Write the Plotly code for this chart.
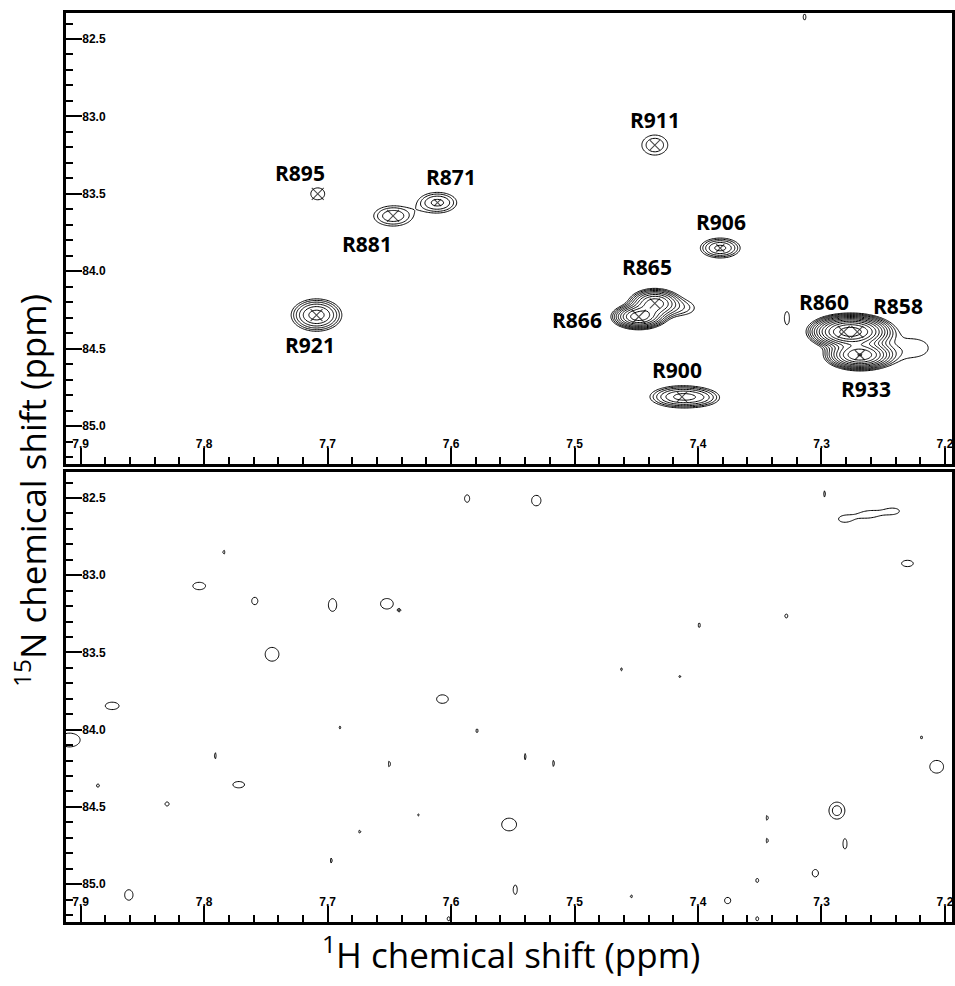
import numpy as np
import plotly.graph_objects as go

# ---------------- data (ppm) ----------------
# assigned peaks in the top spectrum
peak_labels = ["R895", "R881", "R871", "R921", "R911", "R906",
               "R865", "R866", "R900", "R860", "R858", "R933"]
peak_h = [7.708, 7.647, 7.611, 7.709, 7.435, 7.382,
          7.435, 7.448, 7.413, 7.282, 7.271, 7.269]
peak_n = [83.500, 83.643, 83.557, 84.283, 83.185, 83.850,
          84.207, 84.294, 84.811, 84.391, 84.391, 84.541]
peak_lnI = [0.22, 0.85, 1.0, 1.65, 0.55, 1.3,
            2.3, 2.6, 1.6, 2.9, 2.9, 3.0]
peak_wh = [0.0085, 0.012, 0.011, 0.0113, 0.0100, 0.0100,
           0.0100, 0.0099, 0.0145, 0.0125, 0.0125, 0.0120]
peak_wn = [0.058, 0.050, 0.047, 0.0577, 0.0616, 0.040,
           0.045, 0.037, 0.040, 0.046, 0.046, 0.042]

# unassigned signal (shoulders, tails, weak spots) in the top spectrum
extra_h = [7.4114, 7.395, 7.2256, 7.328, 7.3137]
extra_n = [84.238, 84.819, 84.496, 84.302, 82.358]
extra_lnI = [0.3, 0.0, 0.2, 0.15, 0.15]
extra_wh = [0.010, 0.010, 0.019, 0.0037, 0.0022]
extra_wn = [0.045, 0.035, 0.090, 0.077, 0.035]

# noise features in the bottom (control) spectrum
noise_h = [7.784, 7.804, 7.759, 7.696, 7.745, 7.8745, 7.909, 7.690, 7.791, 7.886,
           7.772, 7.830, 7.674, 7.697, 7.861, 7.587, 7.531, 7.652, 7.642, 7.462,
           7.607, 7.579, 7.650, 7.540, 7.517, 7.6265, 7.553, 7.548, 7.454, 7.602,
           7.2975, 7.2818, 7.2616, 7.2414, 7.2304, 7.3285, 7.399, 7.4147, 7.219, 7.2067,
           7.2875, 7.344, 7.344, 7.281, 7.305, 7.352, 7.376, 7.352]
noise_n = [82.851, 83.070, 83.167, 83.193, 83.512, 83.846, 84.067, 83.986, 84.169, 84.362,
           84.356, 84.481, 84.660, 84.847, 85.070, 82.504, 82.517, 83.185, 83.227, 83.609,
           83.802, 84.007, 84.222, 84.175, 84.218, 84.552, 84.614, 85.036, 85.079, 85.224,
           82.474, 82.637, 82.606, 82.585, 82.924, 83.264, 83.324, 83.656, 84.050, 84.240,
           84.524, 84.571, 84.718, 84.739, 84.929, 84.976, 85.106, 85.224]
noise_lnI = [0.25] * 31 + [0.1, 0.1, 0.1] + [0.25] * 6 + [0.45] + [0.25] * 7
noise_wh = [0.0012, 0.0073, 0.0036, 0.0048, 0.0079, 0.0079, 0.0121, 0.0012, 0.0012, 0.0018,
            0.0067, 0.0024, 0.0012, 0.0012, 0.0048, 0.0030, 0.0054, 0.0073, 0.0012, 0.0012,
            0.0067, 0.0012, 0.0012, 0.0012, 0.0012, 0.0012, 0.0085, 0.0024, 0.0012, 0.0018,
            0.0012, 0.0090, 0.0090, 0.0090, 0.0067, 0.0018, 0.0012, 0.0012, 0.0012, 0.0079,
            0.0068, 0.0012, 0.0012, 0.0024, 0.0036, 0.0018, 0.0036, 0.0018]
noise_wn = [0.019, 0.034, 0.034, 0.058, 0.063, 0.034, 0.063, 0.0145, 0.029, 0.0145,
            0.029, 0.019, 0.0145, 0.024, 0.048, 0.034, 0.048, 0.048, 0.0097, 0.0145,
            0.039, 0.019, 0.029, 0.029, 0.029, 0.0097, 0.058, 0.0435, 0.0145, 0.019,
            0.029, 0.040, 0.035, 0.035, 0.029, 0.019, 0.024, 0.0097, 0.0145, 0.058,
            0.058, 0.024, 0.024, 0.048, 0.034, 0.019, 0.029, 0.019]

x_ticks = [7.9, 7.8, 7.7, 7.6, 7.5, 7.4, 7.3, 7.2]
y_ticks = [82.5, 83.0, 83.5, 84.0, 84.5, 85.0]

# ---------------- styles / layout ----------------
X_RANGE = [7.912, 7.1947]
Y_RANGE = [85.245, 82.332]
label_shift = {  # pixel offsets of labels from their peak
    "R895": (-18, 21), "R881": (-26, -28), "R871": (13, 26), "R921": (-7, -30),
    "R911": (0, 25), "R906": (1, 26), "R865": (-8, 36), "R866": (-62, -3),
    "R900": (-5, 27), "R860": (-20, 30), "R858": (41, 26), "R933": (6, -34),
}
cross_size = [12, 12, 7, 12, 10, 8, 10, 14, 10, 12, 12, 10]

gx = np.arange(7.18, 7.93, 0.0012)
gy = np.arange(82.30, 85.28, 0.006)
GX, GY = np.meshgrid(gx, gy)


def spectrum(hs, ns, lnIs, whs, wns):
    s = np.zeros_like(GX)
    for h, n, li, wh, wn in zip(hs, ns, lnIs, whs, wns):
        s += np.exp(li - 0.5 * ((GX - h) / wh) ** 2 - 0.5 * ((GY - n) / wn) ** 2)
    return np.maximum(np.log(s + 1e-12), -1.0).astype(np.float32)


z_top = spectrum(peak_h + extra_h, peak_n + extra_n, peak_lnI + extra_lnI,
                 peak_wh + extra_wh, peak_wn + extra_wn)
z_bot = spectrum(noise_h, noise_n, noise_lnI, noise_wh, noise_wn)

fig = go.Figure()
contour_style = dict(
    autocontour=False,
    contours=dict(start=0.0, end=4.5, size=0.3, coloring="none"),
    line=dict(color="black", width=1.0, smoothing=1),
    showscale=False, hoverinfo="skip",
)
fig.add_trace(go.Contour(x=gx, y=gy, z=z_top, xaxis="x", yaxis="y", **contour_style))
fig.add_trace(go.Contour(x=gx, y=gy, z=z_bot, xaxis="x2", yaxis="y2", **contour_style))
fig.add_trace(go.Scatter(
    x=peak_h, y=peak_n, mode="markers", xaxis="x", yaxis="y", hoverinfo="skip",
    marker=dict(symbol="x-thin", size=cross_size, color="black",
                line=dict(color="black", width=1.1)),
    showlegend=False,
))

tickfont = dict(family="Liberation Sans", size=12, color="black", weight="bold")
common_x = dict(
    range=X_RANGE, tickvals=x_ticks, tickformat=".1f", ticks="inside", ticklen=16,
    tickwidth=1.5, tickcolor="black", ticklabelposition="inside",
    ticklabeloverflow="allow", ticklabelstandoff=-3,
    minor=dict(dtick=0.02, tick0=7.2, ticks="inside", ticklen=7, tickwidth=1.5,
               tickcolor="black", showgrid=False),
    showline=True, linewidth=2.5, linecolor="black", mirror=True,
    showgrid=False, zeroline=False, tickfont=tickfont,
)
common_y = dict(
    range=Y_RANGE, tickvals=y_ticks, tickformat=".1f", ticks="inside", ticklen=16,
    tickwidth=1.5, tickcolor="black", ticklabelposition="inside",
    ticklabeloverflow="allow",
    minor=dict(dtick=0.1, tick0=82.5, ticks="inside", ticklen=7, tickwidth=1.5,
               tickcolor="black", showgrid=False),
    showline=True, linewidth=2.5, linecolor="black", mirror=True,
    showgrid=False, zeroline=False, tickfont=tickfont,
)
dom_x = [66 / 955, 953.5 / 955]
fig.update_layout(
    width=955, height=986, margin=dict(l=0, r=0, t=0, b=0),
    paper_bgcolor="white", plot_bgcolor="white", showlegend=False,
    xaxis=dict(domain=dom_x, anchor="y", **common_x),
    yaxis=dict(domain=[522 / 986, 973 / 986], anchor="x", **common_y),
    xaxis2=dict(domain=dom_x, anchor="y2", **common_x),
    yaxis2=dict(domain=[64 / 986, 514 / 986], anchor="x2", **common_y),
)

annotations = []
for lab, h, n in zip(peak_labels, peak_h, peak_n):
    dx, dy = label_shift[lab]
    annotations.append(dict(
        x=h, y=n, xref="x", yref="y", text=lab, showarrow=False,
        xshift=dx, yshift=dy,
        font=dict(family="Open Sans", size=21, color="black", weight="bold"),
    ))
annotations.append(dict(
    x=30 / 955, y=(986 - 490) / 986, xref="paper", yref="paper", textangle=-90,
    xanchor="center", yanchor="middle", showarrow=False,
    text="<sup>15</sup>N chemical shift (ppm)",
    font=dict(family="Open Sans", size=35, color="black"),
))
annotations.append(dict(
    x=512 / 955, y=(986 - 952) / 986, xref="paper", yref="paper",
    xanchor="center", yanchor="middle", showarrow=False,
    text="<sup>1</sup>H chemical shift (ppm)",
    font=dict(family="Open Sans", size=35, color="black"),
))
fig.update_layout(annotations=annotations)

fig.write_html("out.html")
